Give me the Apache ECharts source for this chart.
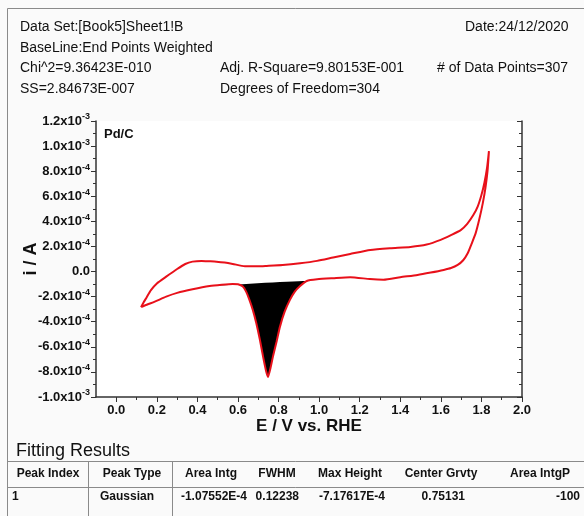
<!DOCTYPE html>
<html>
<head>
<meta charset="utf-8">
<script src="https://cdn.jsdelivr.net/npm/echarts@6/dist/echarts.min.js"></script>
<style>
html,body{margin:0;padding:0;background:#fafafa;}
#c{width:584px;height:516px;}
</style>
</head>
<body>
<div id="c"></div>
<script>
// ---- Data (E in V vs RHE, i in A) ----
const forwardE = [0.122,0.135,0.150,0.170,0.200,0.246,0.300,0.340,0.376,0.420,0.460,0.494,0.534,0.574,0.634,0.700,0.741,0.820,0.906,0.990,1.069,1.153,1.252,1.350,1.450,1.530,1.599,1.650,1.698,1.730,1.760,1.782,1.800,1.815,1.828,1.837];
const forwardI = [-2.84e-4,-2.45e-4,-2.05e-4,-1.50e-4,-0.95e-4,-0.41e-4,0.20e-4,0.60e-4,0.79e-4,0.85e-4,0.82e-4,0.79e-4,0.72e-4,0.61e-4,0.42e-4,0.42e-4,0.45e-4,0.52e-4,0.66e-4,0.85e-4,1.12e-4,1.40e-4,1.72e-4,1.86e-4,1.96e-4,2.15e-4,2.52e-4,2.90e-4,3.30e-4,3.80e-4,4.50e-4,5.20e-4,6.10e-4,7.10e-4,8.30e-4,9.60e-4];
const reverseE = [1.837,1.830,1.820,1.807,1.790,1.772,1.750,1.733,1.710,1.683,1.650,1.614,1.550,1.485,1.400,1.317,1.250,1.153,1.069,0.990,0.939,0.906,0.880,0.856,0.830,0.807,0.790,0.772,0.760,0.748,0.738,0.725,0.708,0.690,0.673,0.655,0.640,0.624,0.600,0.574,0.520,0.460,0.376,0.300,0.246,0.190,0.150,0.122];
const reverseI = [9.60e-4,8.00e-4,6.70e-4,5.47e-4,4.20e-4,3.08e-4,2.15e-4,1.48e-4,0.90e-4,0.53e-4,0.28e-4,0.13e-4,-0.08e-4,-0.27e-4,-0.45e-4,-0.65e-4,-0.60e-4,-0.45e-4,-0.53e-4,-0.62e-4,-0.75e-4,-1.15e-4,-1.60e-4,-2.26e-4,-3.20e-4,-4.39e-4,-5.60e-4,-6.80e-4,-7.70e-4,-8.40e-4,-7.90e-4,-6.90e-4,-5.45e-4,-4.10e-4,-3.06e-4,-2.20e-4,-1.60e-4,-1.20e-4,-1.02e-4,-0.99e-4,-1.05e-4,-1.15e-4,-1.41e-4,-1.70e-4,-2.00e-4,-2.40e-4,-2.65e-4,-2.84e-4];
// integrated peak region (baseline end points)
const peakStartE = 0.460, peakEndE = 0.939;

const xLabelValues = [0.0,0.2,0.4,0.6,0.8,1.0,1.2,1.4,1.6,1.8,2.0];
const xMinorValues = [0.1,0.3,0.5,0.7,0.9,1.1,1.3,1.5,1.7,1.9];

const headerRows = [
  ["Data Set:[Book5]Sheet1!B", "", "Date:24/12/2020"],
  ["BaseLine:End Points Weighted", "", ""],
  ["Chi^2=9.36423E-010", "Adj. R-Square=9.80153E-001", "# of Data Points=307"],
  ["SS=2.84673E-007", "Degrees of Freedom=304", ""]
];
const tableTitle = "Fitting Results";
const tableHeaders = ["Peak Index","Peak Type","Area Intg","FWHM","Max Height","Center Grvty","Area IntgP"];
const tableRow = ["1","Gaussian","-1.07552E-4","0.12238","-7.17617E-4","0.75131","-100"];
const sampleLabel = "Pd/C";

// ---- build ----
const loop = forwardE.map((e,k)=>[e, forwardI[k]]).concat(reverseE.slice(1).map((e,k)=>[e, reverseI[k+1]]));
const fill = [];
reverseE.forEach((e,k)=>{ if (e <= peakEndE + 1e-9 && e >= peakStartE - 1e-9) fill.push([e, reverseI[k]]); });

const FONT = 'Arial, "Liberation Sans", sans-serif';
const RED = '#e8101a';

function yFmt(v){
  if (Math.abs(v) < 1e-9) return '{m|0.0}';
  let e = Math.floor(Math.log10(Math.abs(v)) + 1e-9);
  let m = v / Math.pow(10, e);
  return '{m|' + m.toFixed(1) + 'x10}{s|' + e + '}';
}

const graphics = [];
const colX = [[20, 220, 465],[20,220,465],[20,220,437],[20,220,437]];
const rowY = [27, 48, 68, 89];
headerRows.forEach((r, ri) => r.forEach((t, ci) => {
  if (!t) return;
  graphics.push({type:'text', x: colX[ri][ci], y: rowY[ri], style:{text:t, fill:'#111', font:'14px ' + FONT, verticalAlign:'middle'}});
}));
// frame lines
const lineStyle = {stroke:'#8a8a8a', lineWidth:1};
graphics.push({type:'line', shape:{x1:7.5,y1:8.5,x2:584,y2:8.5}, style:lineStyle});
graphics.push({type:'line', shape:{x1:7.5,y1:8.5,x2:7.5,y2:516}, style:lineStyle});
graphics.push({type:'line', shape:{x1:7.5,y1:461.5,x2:584,y2:461.5}, style:lineStyle});
graphics.push({type:'line', shape:{x1:7.5,y1:487.5,x2:584,y2:487.5}, style:lineStyle});
graphics.push({type:'line', shape:{x1:88.5,y1:461.5,x2:88.5,y2:516}, style:lineStyle});
graphics.push({type:'line', shape:{x1:172.5,y1:461.5,x2:172.5,y2:516}, style:lineStyle});
graphics.push({type:'text', x:16, y:451, style:{text:tableTitle, fill:'#111', font:'18px ' + FONT, verticalAlign:'middle'}});
const headCenters = [48, 132, 211, 277, 350, 441, 540];
tableHeaders.forEach((t,k)=>{
  graphics.push({type:'text', x: headCenters[k], y: 474, style:{text:t, fill:'#111', font:'bold 12px ' + FONT, align:'center', verticalAlign:'middle'}});
});
const rowPos = [[12,'left'],[100,'left'],[247,'right'],[299,'right'],[385,'right'],[465,'right'],[580,'right']];
tableRow.forEach((t,k)=>{
  graphics.push({type:'text', x: rowPos[k][0], y: 497, style:{text:t, fill:'#111', font:'bold 12px ' + FONT, align:rowPos[k][1], verticalAlign:'middle'}});
});
graphics.push({type:'text', x:104, y:134, style:{text:sampleLabel, fill:'#111', font:'bold 13px ' + FONT, verticalAlign:'middle'}});

const axisCol = '#333';
const chart = echarts.init(document.getElementById('c'), null, {renderer:'canvas'});
chart.setOption({
  backgroundColor:'#fafafa',
  animation:false,
  grid:{left:96, right:62, top:121, bottom:119, show:true, backgroundColor:'#ffffff', borderWidth:0},
  xAxis:[{
    type:'value', min:-0.1, max:2.0, interval:0.1,
    name:'E / V vs. RHE', nameLocation:'middle', nameGap:21, nameMoveOverlap:false,
    nameTextStyle:{fontSize:17, fontWeight:'bold', fontFamily:FONT, color:'#111'},
    axisLine:{show:true, onZero:false, lineStyle:{color:axisCol, width:1.5}},
    axisTick:{show:true, length:5, lineStyle:{color:axisCol, width:1}, customValues:xLabelValues},
    axisLabel:{show:true, margin:7, fontSize:13, fontWeight:'bold', fontFamily:FONT, color:'#111', customValues:xLabelValues, formatter:(v)=>v.toFixed(1)},
    splitLine:{show:false}
  },{
    type:'value', min:-0.1, max:2.0, interval:0.1, position:'bottom',
    axisLine:{show:false, onZero:false},
    axisTick:{show:true, length:3, lineStyle:{color:axisCol, width:1}, customValues:xMinorValues},
    axisLabel:{show:false}, splitLine:{show:false}
  }],
  yAxis:[{
    type:'value', min:-1.0e-3, max:1.2e-3, interval:2e-4,
    name:'i / A', nameLocation:'middle', nameGap:56, nameRotate:90, nameMoveOverlap:false,
    nameTextStyle:{fontSize:18, fontWeight:'bold', fontFamily:FONT, color:'#111'},
    axisLine:{show:true, onZero:false, lineStyle:{color:axisCol, width:1.5}},
    axisTick:{show:true, length:5, lineStyle:{color:axisCol, width:1}},
    minorTick:{show:true, splitNumber:2, length:3, lineStyle:{color:axisCol, width:1}},
    axisLabel:{show:true, margin:6, formatter:yFmt, rich:{
      m:{fontSize:13, fontWeight:'bold', fontFamily:FONT, color:'#111'},
      s:{fontSize:9, fontWeight:'bold', fontFamily:FONT, color:'#111', verticalAlign:'top', padding:[0,0,8,0]}
    }},
    splitLine:{show:false}
  },{
    type:'value', min:-1.0e-3, max:1.2e-3, interval:2e-4, position:'right',
    axisLine:{show:true, onZero:false, lineStyle:{color:axisCol, width:1.5}},
    axisTick:{show:true, inside:true, length:5, lineStyle:{color:axisCol, width:1}},
    minorTick:{show:true, splitNumber:2, length:3, lineStyle:{color:axisCol, width:1}},
    axisLabel:{show:false}, splitLine:{show:false}
  }],
  series:[{
    type:'custom', xAxisIndex:0, yAxisIndex:0, data:fill, z:2,
    renderItem:(params, api)=>{
      if (params.dataIndex !== 0) return null;
      const pts = fill.map(p=>api.coord(p));
      return {type:'polygon', shape:{points:pts, smooth:0.2}, style:{fill:'#000'}};
    }
  },{
    type:'line', xAxisIndex:0, yAxisIndex:0, data:loop, showSymbol:false, smooth:0.2, z:3,
    lineStyle:{color:RED, width:2}
  }],
  graphic:graphics
});
</script>
</body>
</html>
